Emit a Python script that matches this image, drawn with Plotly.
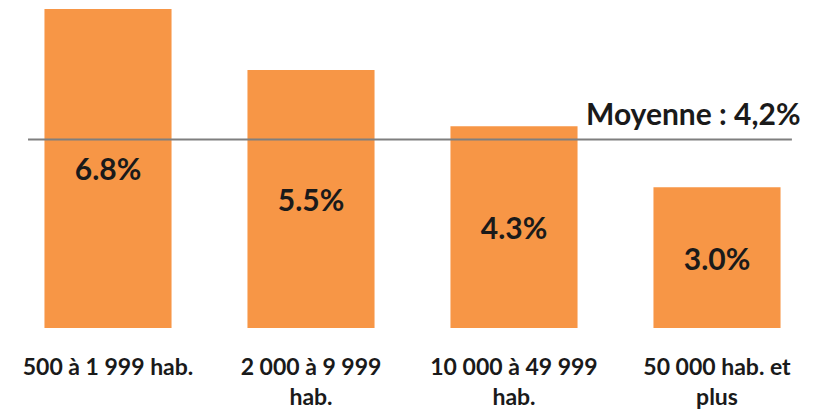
import plotly.graph_objects as go

# données
categories = ["500 à 1 999 hab.", "2 000 à 9 999<br>hab.", "10 000 à 49 999<br>hab.", "50 000 hab. et<br>plus"]
values = [6.8, 5.5, 4.3, 3.0]
labels = ["6.8%", "5.5%", "4.3%", "3.0%"]
mean_label = "Moyenne : 4,2%"
mean_level = 4.02  # niveau où la ligne est dessinée sur l'original

FONT = "Lato, 'Open Sans', sans-serif"

fig = go.Figure()
fig.add_trace(go.Bar(
    x=list(range(len(categories))), y=values,
    text=labels, textposition="inside", insidetextanchor="middle",
    textfont=dict(family=FONT, size=30, color="#1a1a1a", weight="bold"),
    marker=dict(color="#F79646", line=dict(width=0)),
    hoverinfo="skip",
))

fig.add_shape(type="line", xref="x", yref="y",
              x0=-0.394, x1=3.369, y0=mean_level, y1=mean_level,
              line=dict(color="#7f7f7f", width=2))
fig.add_annotation(x=2.345, y=4.58, xref="x", yref="y", text=mean_label,
                   showarrow=False, xanchor="left", yanchor="middle",
                   font=dict(family=FONT, size=30, color="#1a1a1a", weight="bold"))

# la page place la figure à 8 px du bord : on réduit la taille d'autant
fig.update_layout(
    width=809, height=409,
    margin=dict(l=0, r=0, t=0, b=89),
    paper_bgcolor="white", plot_bgcolor="white",
    showlegend=False, bargap=0.374,
    xaxis=dict(range=[-0.4926, 3.4926], tickmode="array",
               tickvals=list(range(len(categories))), ticktext=categories,
               showgrid=False, zeroline=False, showline=False, ticks="",
               ticklabelstandoff=23,
               tickfont=dict(family=FONT, size=23, color="#1a1a1a", weight="bold")),
    yaxis=dict(range=[0, 6.82], visible=False, showgrid=False),
)

fig.write_html("out.html")
